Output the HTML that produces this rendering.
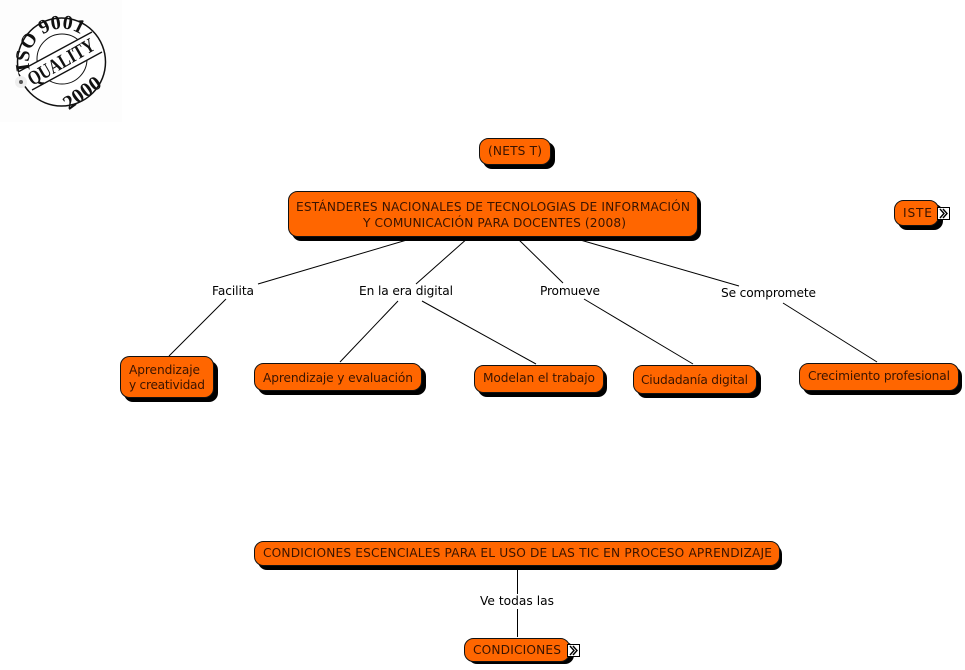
<!DOCTYPE html>
<html><head><meta charset="utf-8"><style>
html,body{margin:0;padding:0;background:#fff}
svg{display:block}
text{font-family:"DejaVu Sans","Liberation Sans",sans-serif;font-size:12.2px}
.n{fill:#ff6600;stroke:#111;stroke-width:1}
.s{fill:#000}
.t{fill:#3a1400}
.l{fill:#000}
.c{stroke:#000;stroke-width:1;fill:none}
.logo{font-family:"Liberation Serif",serif;font-weight:bold;fill:#111}
</style></head><body>
<svg width="965" height="670" viewBox="0 0 965 670" xmlns="http://www.w3.org/2000/svg">
<rect x="0" y="0" width="122" height="122" fill="#fdfdfd"/>
<defs>
<path id="a1" d="M30 70 A33 33 0 0 1 80 34"/>
</defs>
<circle cx="61.500" cy="62" r="44" fill="#fff" stroke="#111" stroke-width="1.500"/>
<circle cx="62" cy="59" r="25" fill="none" stroke="#111" stroke-width="1"/>
<polygon points="18,72 92,32 102,52 32,90" fill="#fff"/>
<line x1="18" y1="72" x2="92" y2="32" stroke="#111" stroke-width="1.300"/>
<line x1="32" y1="90" x2="102" y2="52" stroke="#111" stroke-width="1.300"/>
<text class="logo" style="font-size:20px"><textPath href="#a1" textLength="80">ISO 9001</textPath></text>
<text class="logo" style="font-size:20px" transform="rotate(-30 60 62)" x="24" y="69" textLength="74" lengthAdjust="spacingAndGlyphs">QUALITY</text>
<text class="logo" style="font-size:20px" transform="rotate(-36 80 90)" x="59" y="100" textLength="42" lengthAdjust="spacingAndGlyphs">2000</text>
<circle cx="21" cy="82" r="6" fill="#eee"/><circle cx="21" cy="82" r="2" fill="#555"/>

<g class="c">
<line x1="417" y1="237" x2="258" y2="284"/>
<line x1="469" y1="237" x2="416" y2="284"/>
<line x1="516" y1="237" x2="563" y2="283"/>
<line x1="570" y1="237" x2="739" y2="286"/>
<line x1="226" y1="299" x2="169" y2="356"/>
<line x1="398" y1="301" x2="340" y2="362"/>
<line x1="422" y1="301" x2="536" y2="364"/>
<line x1="584" y1="299" x2="693" y2="364"/>
<line x1="783" y1="303" x2="877" y2="362"/>
<line x1="517.500" y1="568" x2="517.500" y2="594"/>
<line x1="517.500" y1="609" x2="517.500" y2="637"/>
</g>

<g>
<rect class="s" x="483" y="142" width="72" height="27" rx="9"/>
<rect class="n" x="479.500" y="138.500" width="71" height="26" rx="9"/>
<text class="t" x="488" y="155" textLength="54">(NETS T)</text>

<rect class="s" x="292" y="195" width="409" height="46" rx="9"/>
<rect class="n" x="288.500" y="191.500" width="409" height="45" rx="9"/>
<text class="t" x="296" y="211" textLength="394">ESTÁNDERES NACIONALES DE TECNOLOGIAS DE INFORMACIÓN</text>
<text class="t" x="363" y="227" textLength="263">Y COMUNICACIÓN PARA DOCENTES (2008)</text>

<rect class="s" x="898" y="204" width="45" height="26" rx="9"/>
<rect class="n" x="894.500" y="200.500" width="44" height="25" rx="9"/>
<text class="t" x="903" y="217" textLength="29">ISTE</text>

<rect class="s" x="124" y="361" width="94" height="41" rx="9"/>
<rect class="n" x="120.500" y="356.500" width="93" height="41" rx="9"/>
<text class="t" x="129" y="374" textLength="71">Aprendizaje</text>
<text class="t" x="129" y="389" textLength="76">y creatividad</text>

<rect class="s" x="258" y="367" width="168" height="28" rx="9"/>
<rect class="n" x="254.500" y="363.500" width="167" height="27" rx="9"/>
<text class="t" x="263" y="382" textLength="150">Aprendizaje y evaluación</text>

<rect class="s" x="478" y="369" width="129" height="28" rx="9"/>
<rect class="n" x="474.500" y="365.500" width="129" height="27" rx="9"/>
<text class="t" x="483" y="382" textLength="112">Modelan el trabajo</text>

<rect class="s" x="637" y="369" width="124" height="29" rx="9"/>
<rect class="n" x="633.500" y="365.500" width="123" height="28" rx="9"/>
<text class="t" x="641" y="384" textLength="107">Ciudadanía digital</text>

<rect class="s" x="803" y="367" width="159" height="28" rx="9"/>
<rect class="n" x="799.500" y="363.500" width="159" height="27" rx="9"/>
<text class="t" x="808" y="380" textLength="142">Crecimiento profesional</text>

<rect class="s" x="258" y="545" width="524" height="25" rx="9"/>
<rect class="n" x="254.500" y="541.500" width="525" height="24" rx="9"/>
<text class="t" x="263" y="557" textLength="509">CONDICIONES ESCENCIALES PARA EL USO DE LAS TIC EN PROCESO APRENDIZAJE</text>

<rect class="s" x="468" y="642" width="106" height="22" rx="9"/>
<rect class="n" x="464.500" y="638.500" width="105" height="23" rx="9"/>
<text class="t" x="473" y="654" textLength="88">CONDICIONES</text>
</g>

<g class="l">
<text x="212" y="295" textLength="42">Facilita</text>
<text x="359" y="295" textLength="94">En la era digital</text>
<text x="540" y="295" textLength="60">Promueve</text>
<text x="721" y="297" textLength="95">Se compromete</text>
<text x="480" y="605" textLength="74">Ve todas las</text>
</g>

<g>
<rect x="937.500" y="207.500" width="12" height="12" fill="#fff" stroke="#000"/>
<path d="M940 209l4 4.500l-4 4.500M943 209l4 4.500l-4 4.500" fill="none" stroke="#000" stroke-width="1.400"/>
<rect x="567.500" y="644.500" width="12" height="12" fill="#fff" stroke="#000"/>
<path d="M570 646l4 4.500l-4 4.500M573 646l4 4.500l-4 4.500" fill="none" stroke="#000" stroke-width="1.400"/>
</g>
</svg>
</body></html>
